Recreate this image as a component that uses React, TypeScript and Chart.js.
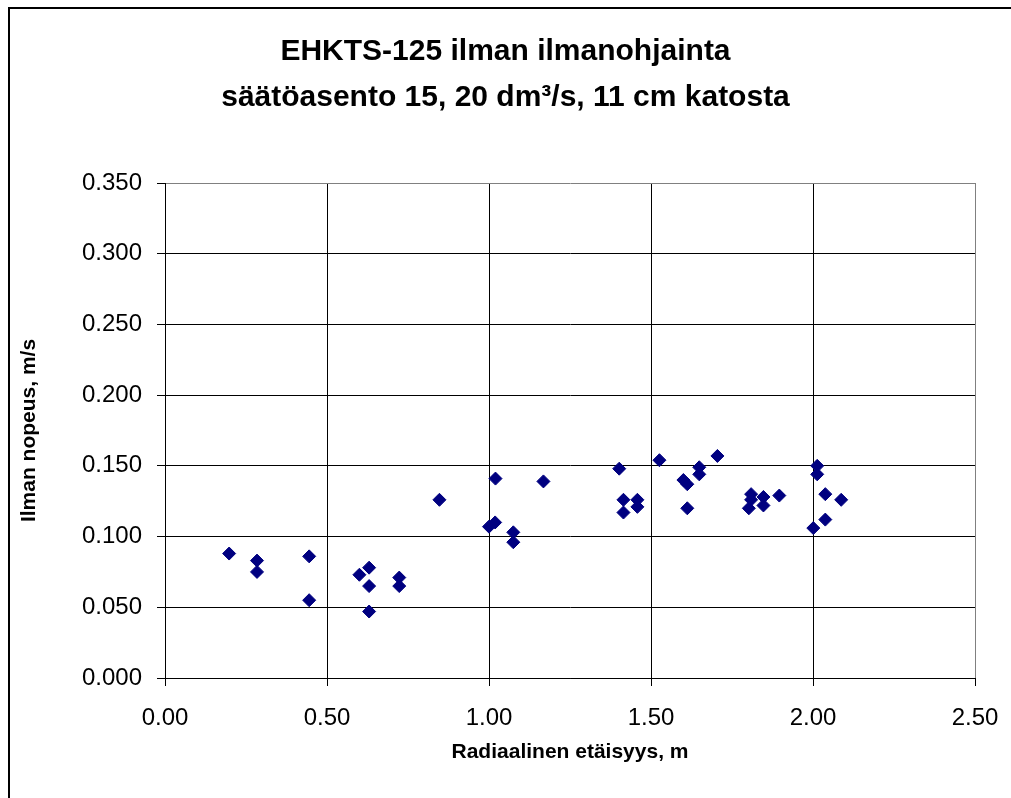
import { useEffect, useRef } from 'react';
import { Chart, registerables } from 'chart.js';

Chart.register(...registerables);

const titleLines = ['EHKTS-125 ilman ilmanohjainta', 'säätöasento 15, 20 dm³/s, 11 cm katosta'];
const xAxisTitle = 'Radiaalinen etäisyys, m';
const yAxisTitle = 'Ilman nopeus, m/s';

const distances = [
  0.198, 0.284, 0.284, 0.445, 0.445, 0.600, 0.630, 0.630, 0.630, 0.723, 0.723,
  0.847, 1.000, 1.019, 1.020, 1.075, 1.075, 1.168, 1.402, 1.415, 1.415, 1.458,
  1.458, 1.526, 1.600, 1.612, 1.612, 1.649, 1.649, 1.705, 1.809, 1.809, 1.802,
  1.847, 1.847, 1.896, 2.013, 2.013, 2.038, 2.087, 2.038, 2.001,
];
const velocities = [
  0.088, 0.083, 0.075, 0.086, 0.055, 0.073, 0.078, 0.065, 0.047, 0.071, 0.065,
  0.126, 0.107, 0.110, 0.141, 0.103, 0.096, 0.139, 0.148, 0.126, 0.117, 0.126,
  0.121, 0.154, 0.140, 0.137, 0.120, 0.149, 0.144, 0.157, 0.130, 0.126, 0.120,
  0.128, 0.122, 0.129, 0.150, 0.144, 0.130, 0.126, 0.112, 0.106,
];

const FONT = "'Liberation Sans', Arial, sans-serif";

const outerBorder = {
  id: 'outerBorder',
  beforeDraw(chart: any) {
    const ctx = chart.ctx;
    ctx.save();
    ctx.fillStyle = '#ffffff';
    ctx.fillRect(0, 0, chart.width, chart.height);
    ctx.strokeStyle = '#000000';
    ctx.lineWidth = 2;
    ctx.strokeRect(9, 8, chart.width + 20, chart.height + 20);
    ctx.restore();
  },
};

export default function App() {
  const ref = useRef<HTMLCanvasElement | null>(null);
  useEffect(() => {
    if (!ref.current) return;
    const points = distances.map((x, i) => ({ x, y: velocities[i] }));
    const chart = new Chart(ref.current, {
      type: 'scatter',
      data: {
        datasets: [
          {
            data: points,
            pointStyle: 'rectRot',
            pointRadius: 6.5,
            pointHoverRadius: 6.5,
            backgroundColor: '#000080',
            borderColor: '#000080',
            borderWidth: 1,
          },
        ],
      },
      options: {
        responsive: false,
        animation: false,
        events: [],
        layout: { padding: 0 },
        plugins: {
          legend: { display: false },
          tooltip: { enabled: false },
          title: {
            display: true,
            text: titleLines,
            color: '#000000',
            font: { family: FONT, size: 30, weight: 'bold', lineHeight: '46px' },
            padding: { top: 29, bottom: 62 },
          },
        },
        scales: {
          x: {
            type: 'linear',
            min: 0,
            max: 2.5,
            afterFit: (s: any) => {
              s.height = 120;
              s.paddingLeft = 0;
              s.paddingRight = 36;
            },
            ticks: {
              stepSize: 0.5,
              color: '#000000',
              padding: 18,
              font: { family: FONT, size: 24 },
              callback: (v: any) => Number(v).toFixed(2),
            },
            grid: {
              color: (c: any) => (c.tick && c.tick.value === 2.5 ? '#808080' : '#000000'),
              tickColor: '#000000',
              tickLength: 8,
              lineWidth: 1,
            },
            border: { color: '#000000', width: 1 },
            title: {
              display: true,
              text: xAxisTitle,
              color: '#000000',
              font: { family: FONT, size: 21, weight: 'bold' },
              padding: { top: 0, bottom: 33 },
            },
          },
          y: {
            type: 'linear',
            min: 0,
            max: 0.35,
            afterFit: (s: any) => {
              s.width = 165;
              s.paddingTop = 0;
              s.paddingBottom = 0;
            },
            ticks: {
              stepSize: 0.05,
              color: '#000000',
              padding: 15,
              font: { family: FONT, size: 24 },
              callback: (v: any) => Number(v).toFixed(3),
            },
            grid: {
              color: (c: any) => (c.tick && Math.abs(c.tick.value - 0.35) < 1e-9 ? '#808080' : '#000000'),
              tickColor: '#000000',
              tickLength: 8,
              lineWidth: 1,
            },
            border: { color: '#000000', width: 1 },
            title: {
              display: true,
              text: yAxisTitle,
              color: '#000000',
              font: { family: FONT, size: 21, weight: 'bold' },
              padding: { top: 17, bottom: 0 },
            },
          },
        },
      },
      plugins: [outerBorder],
    });
    return () => chart.destroy();
  }, []);

  return (
    <div style={{ position: 'fixed', left: 0, top: 0, width: 1011, height: 798, background: '#fff' }}>
      <canvas ref={ref} width={1011} height={798} style={{ display: 'block', width: 1011, height: 798 }} />
    </div>
  );
}
